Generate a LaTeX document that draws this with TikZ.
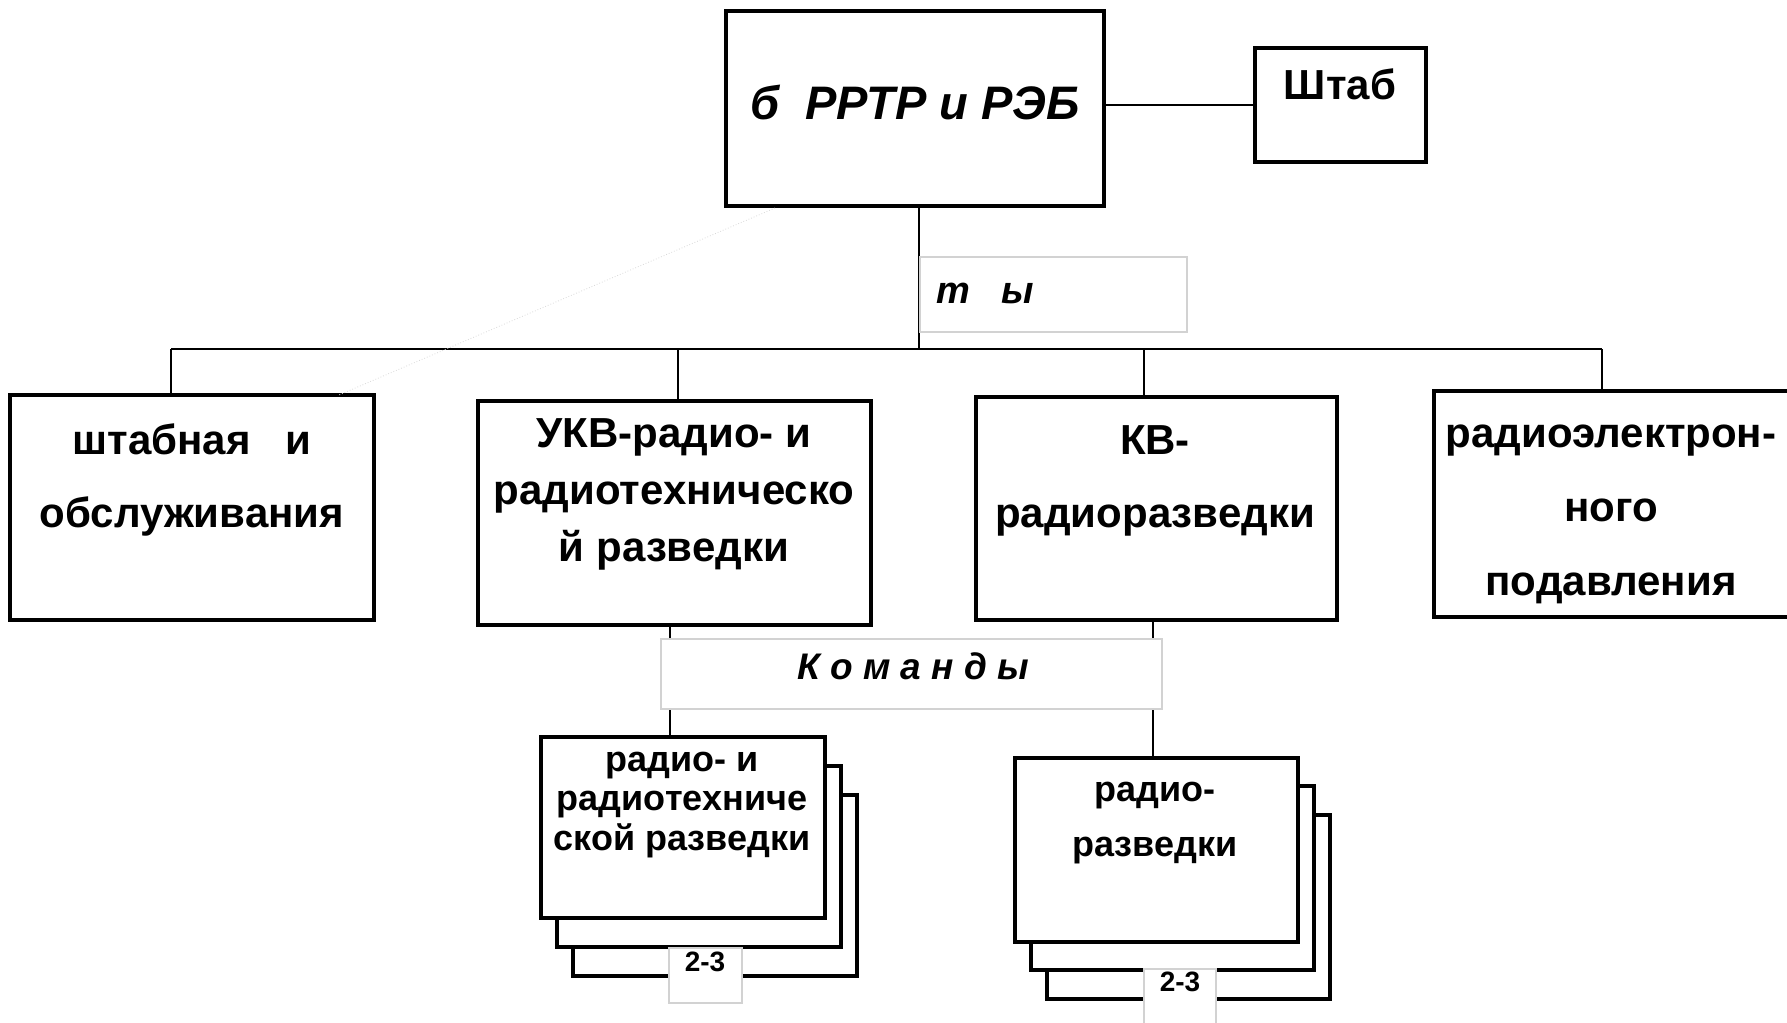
\documentclass[tikz,border=0pt]{standalone}
\usepackage{fontspec}
\setmainfont{Liberation Sans}
\usepackage{tikz}
\usepackage{xcolor}
\usetikzlibrary{positioning}

\begin{document}
\begin{tikzpicture}[x=0.5pt, y=-0.5pt, line width=1pt,
                unit box/.style={draw, line width=2pt, fill=white, inner sep=0pt},
                tag box/.style={draw=gray!35, line width=0.6pt, fill=white, inner sep=0pt},
                unit text/.style={align=center, font=\bfseries\fontsize{21}{36.5}\selectfont},
                tag text/.style={font=\bfseries\itshape\fontsize{19}{22}\selectfont}]

  \useasboundingbox (0,0) rectangle (1787,1022);

  % top level
  \node[unit box, minimum width=189pt, minimum height=97.5pt] (main) at (915,108.5) {};
  \node[unit box, minimum width=85.5pt, minimum height=57pt] (shtab) at (1340.5,105) {};

  % battalion units
  \node[unit box, minimum width=182pt, minimum height=112.5pt] (shtabn) at (192,507.5) {};
  \node[unit box, minimum width=196.5pt, minimum height=112pt] (ukv) at (674.5,513) {};
  \node[unit box, minimum width=180.5pt, minimum height=111.5pt] (kv) at (1156.5,508.5) {};
  \node[unit box, minimum width=183pt, minimum height=113pt] (reb) at (1617,504) {};

  % stacked teams
  \foreach \d in {2,1}
    \node[unit box, minimum width=142pt, minimum height=90.5pt] (razA\d) at (683+16*\d,827.5+28.75*\d) {};
  \node[unit box, minimum width=142pt, minimum height=90.5pt] (razA) at (683,827.5) {};
  \foreach \d in {2,1}
    \node[unit box, minimum width=141.5pt, minimum height=92pt] (razB\d) at (1156.5+16*\d,850+28.25*\d) {};
  \node[unit box, minimum width=141.5pt, minimum height=92pt] (razB) at (1156.5,850) {};

  % connectors
  \coordinate (busL) at (171,349);
  \coordinate (busR) at (1602,349);
  \coordinate (diagA) at (775,208);
  \coordinate (diagB) at (339,395);

  \draw (main.east |- shtab.west) -- (shtab.west);
  \draw (main.south -| 919,0) -- (919,0 |- busL);
  \draw (busL) -- (busR);
  \foreach \x/\n in {171/shtabn,678/ukv,1144/kv,1602/reb}
    \draw (\x,349) -- (\x,349 |- \n.north);
  \draw (ukv.south -| 670,0) -- (670,0 |- razA.north);
  \draw (kv.south -| 1153,0) -- (1153,0 |- razB.north);
  \draw[gray!30, line width=0.4pt, densely dotted] (diagA) -- (diagB);

  % tags
  \node[tag box, minimum width=133.5pt, minimum height=37.5pt] (ty) at (1053.5,294.5) {};
  \node[tag box, minimum width=250.5pt, minimum height=35pt] (kom) at (911.5,674) {};
  \node[tag box, minimum width=36.5pt, minimum height=27.5pt] (numA) at (705.5,975.5) {};
  \node[tag box, minimum width=36pt, minimum height=33pt] (numB) at (1180,1002) {};

  % texts
  \node[font=\bfseries\itshape\fontsize{23.5}{28}\selectfont] (mainT) at (915,102) {б\ \ РРТР и РЭБ};
  \node[font=\bfseries\fontsize{21}{25}\selectfont] (shtabT) at (1340,84) {Штаб};
  \node[tag text] (tyT) at (985,293) {т\ \ \ ы};
  \node[tag text, font=\bfseries\itshape\fontsize{18.5}{22}\selectfont] (komT) at (913,666) {К о м а н д ы};

  \node[unit text] (shtabnT) at (192,480) {штабная\ \ \ и\\обслуживания};
  \node[unit text, font=\bfseries\fontsize{21}{28.5}\selectfont] (ukvT) at (674,494) {УКВ-радио- и\\радиотехническо\\й разведки};
  \node[unit text, font=\bfseries\fontsize{21}{36.5}\selectfont] (kvT) at (1155,481) {КВ-\\радиоразведки};
  \node[unit text, font=\bfseries\fontsize{21}{37}\selectfont] (rebT) at (1611,514) {радиоэлектрон-\\ного\\подавления};

  \node[unit text, font=\bfseries\fontsize{18}{19.8}\selectfont] (razAT) at (682,805) {радио- и\\радиотехниче\\ской разведки};
  \node[unit text, font=\bfseries\fontsize{18}{27.5}\selectfont] (razBT) at (1155,823) {радио-\\разведки};

  \node[font=\bfseries\fontsize{14}{16}\selectfont] (numAT) at (705,962) {2-3};
  \node[font=\bfseries\fontsize{14}{16}\selectfont] (numBT) at (1180,982) {2-3};
\end{tikzpicture}
\end{document}
